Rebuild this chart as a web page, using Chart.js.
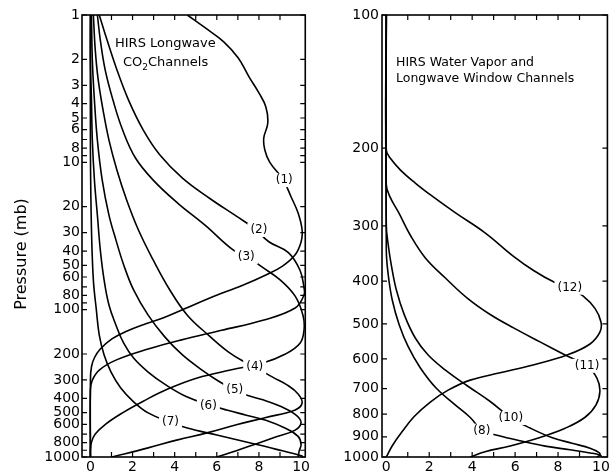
<!DOCTYPE html>
<html>
<head>
<meta charset="utf-8">
<script src="https://cdn.jsdelivr.net/npm/chart.js@4.4.0/dist/chart.umd.min.js"></script>
<style>
  body { margin: 0; background: #fff; width: 612px; height: 471px; overflow: hidden; position: relative; }
  #leftChart { position: absolute; left: 0; top: 0; }
  #rightChart { position: absolute; left: 312px; top: 0; }
</style>
</head>
<body>
<canvas id="leftChart" width="312" height="471"></canvas>
<canvas id="rightChart" width="300" height="471"></canvas>
<script>
// --- left panel: HIRS longwave CO2 channels (x = weighting, p = pressure mb)
const ch1X = [4.6, 5.44, 6.33, 7.02, 7.53, 8.0, 8.33, 8.42, 8.23, 8.28, 8.51, 9.16, 9.53, 9.86, 10.05, 10.0, 9.72, 9.12, 8.33, 7.26, 5.67, 4.47, 3.44, 2.6, 1.72, 1.02, 0.47, 0.19, 0.05, 0, 0];
const ch1P = [1, 1.22, 1.52, 1.96, 2.63, 3.38, 4.21, 5.41, 6.84, 8.25, 9.96, 13.2, 17.2, 22.1, 28.8, 34.7, 42.4, 50.6, 58.2, 68, 83.2, 98.7, 114, 125, 140, 158, 185, 212, 244, 300, 1000];
const ch2X = [0.42, 0.79, 1.26, 1.81, 2.51, 3.3, 4.37, 5.67, 6.93, 7.77, 8.47, 9.4, 9.95, 10.14, 10.14, 9.72, 8.19, 6.23, 4.28, 2.74, 1.21, 0.42, 0.09, 0, 0];
const ch2P = [1, 1.48, 2.36, 3.78, 6.04, 8.92, 12.8, 17.6, 23.2, 28, 34.6, 41, 54, 71, 79.6, 97.5, 118, 138, 161, 185, 220, 257, 301, 351, 1000];
const ch3X = [0.33, 0.47, 0.7, 1.07, 1.53, 2.14, 2.98, 4.14, 5.44, 6.79, 7.49, 8.09, 9.02, 9.72, 10.09, 10.14, 9.95, 9.26, 8.19, 6.7, 5.07, 3.67, 2.51, 1.58, 0.74, 0.23, 0.05, 0, 0];
const ch3P = [1, 1.48, 2.36, 3.78, 6.04, 9.35, 13.2, 18.9, 26.7, 39.5, 44, 50.7, 63, 81, 109, 138, 169, 200, 230, 256, 291, 346, 418, 496, 596, 699, 794, 895, 1000];
const ch4X = [0.14, 0.23, 0.37, 0.6, 0.88, 1.26, 1.72, 2.28, 2.98, 3.77, 4.6, 5.63, 6.56, 7.4, 7.81, 8.65, 9.35, 9.86, 10.05, 9.72, 8.33, 6.93, 5.53, 4.14, 2.74, 1.02];
const ch4P = [1, 1.73, 2.76, 4.42, 7.06, 11.3, 18, 28.8, 46, 73.5, 109, 150, 194, 230, 245, 287, 325, 373, 430, 479, 539, 604, 686, 765, 867, 1000];
const ch5X = [0.05, 0.09, 0.19, 0.33, 0.56, 0.88, 1.21, 1.58, 2.05, 2.74, 3.53, 4.37, 5.3, 6.09, 6.84, 7.4, 8.23, 9.02, 9.72, 10.0, 9.72, 8.79, 7.86, 6.93, 6.0];
const ch5P = [1, 2.02, 3.78, 7.06, 13.2, 22.8, 33.6, 49.7, 73.5, 109, 153, 203, 257, 306, 351, 380, 411, 453, 513, 580, 657, 732, 815, 907, 1000];
const ch6X = [0, 0, 0.05, 0.09, 0.19, 0.33, 0.47, 0.65, 0.88, 1.21, 1.58, 2.05, 2.74, 3.58, 4.6, 5.67, 6.47, 7.4, 8.33, 9.26, 9.86, 10.0, 9.91, 9.86];
const ch6P = [1, 2.02, 3.78, 7.06, 13.2, 22.8, 39.4, 63, 93, 127, 169, 213, 265, 324, 392, 444, 480, 520, 563, 638, 724, 821, 912, 1000];
const ch7X = [0, 0, 0.05, 0.14, 0.28, 0.42, 0.65, 0.98, 1.44, 2.05, 2.74, 3.77, 4.6, 6.0, 7.4, 8.79, 10.05, 10.05];
const ch7P = [1, 8.25, 28.8, 63, 100, 149, 203, 265, 340, 422, 502, 580, 636, 710, 792, 884, 985, 1000];

// --- right panel: water vapour and window channels
const ch8X = [0, 0, 0.09, 0.28, 0.6, 1.02, 1.58, 2.33, 3.21, 3.91, 4.47, 5.21, 6.23, 7.4, 8.56, 9.49, 9.95, 10.05];
const ch8P = [100, 340, 387, 442, 502, 563, 628, 699, 762, 814, 871, 894, 919, 945, 963, 979, 990, 1000];
const ch10X = [0, 0, 0.09, 0.23, 0.47, 0.84, 1.35, 1.95, 2.74, 3.77, 4.84, 5.81, 6.7, 7.67, 8.65, 9.49, 9.91, 9.95, 9.81];
const ch10P = [100, 299, 331, 367, 419, 477, 538, 588, 635, 690, 749, 815, 860, 902, 931, 955, 977, 990, 1000];
const ch11X = [0, 0, 0.19, 0.56, 1.12, 1.81, 2.74, 3.77, 4.84, 5.95, 7.16, 8.33, 9.35, 9.81, 9.95, 9.77, 9.26, 8.33, 7.16, 5.77, 4.6, 3.91];
const ch11P = [100, 242, 259, 279, 315, 354, 393, 437, 476, 511, 549, 588, 623, 663, 710, 762, 813, 861, 903, 944, 973, 1000];
const ch12X = [0, 0, 0.19, 0.65, 1.35, 2.14, 3.21, 4.6, 5.91, 6.88, 7.81, 8.56, 9.16, 9.72, 10.0, 9.95, 9.49, 8.42, 6.84, 5.3, 3.91, 2.88, 2.05, 1.3, 0.74, 0.28, 0];
const ch12P = [100, 202, 211, 224, 240, 257, 280, 311, 351, 379, 402, 415, 432, 461, 495, 522, 555, 588, 619, 645, 670, 706, 751, 810, 876, 943, 1000];

// curve labels
const leftLabels = ['(1)', '(2)', '(3)', '(4)', '(5)', '(6)', '(7)'];
const leftLabelX = [9.2, 8.0, 7.4, 7.8, 6.85, 5.6, 3.8];
const leftLabelP = [13.2, 28.8, 44, 245, 351, 451, 580];
const rightLabels = ['(12)', '(11)', '(10)', '(8)'];
const rightLabelX = [8.55, 9.35, 5.8, 4.45];
const rightLabelP = [414, 622, 816, 872];

// ticks
const xTickValues = [0, 1, 2, 3, 4, 5, 6, 7, 8, 9, 10];
const leftYTicks = [1, 2, 3, 4, 5, 6, 8, 10, 20, 30, 40, 50, 60, 80, 100, 200, 300, 400, 500, 600, 800, 1000];
const leftYMinor = [1, 2, 3, 4, 5, 6, 7, 8, 9, 10, 20, 30, 40, 50, 60, 70, 80, 90, 100, 200, 300, 400, 500, 600, 700, 800, 900, 1000];
const rightYTicks = [100, 200, 300, 400, 500, 600, 700, 800, 900, 1000];

const FONT = '"DejaVu Sans", sans-serif';

function toPoints(xs, ps) {
    return xs.map((x, i) => ({x: x, y: ps[i]}));
}

function curve(xs, ps) {
    return {
        data: toPoints(xs, ps),
        showLine: true,
        borderColor: '#000',
        borderWidth: 1.6,
        pointRadius: 0,
        tension: 0.4,
        fill: false
    };
}

// draws frame, inward ticks, curve labels and panel texts
const decor = {
    id: 'decor',
    afterDatasetsDraw(chart, args, opts) {
        const ctx = chart.ctx;
        const a = chart.chartArea;
        const xs = chart.scales.x, ys = chart.scales.y;
        ctx.save();

        ctx.font = '12px ' + FONT;
        ctx.textAlign = 'center';
        ctx.textBaseline = 'middle';
        opts.labels.forEach((t, i) => {
            const px = xs.getPixelForValue(opts.labelX[i]);
            const py = ys.getPixelForValue(opts.labelP[i]);
            const w = ctx.measureText(t).width;
            ctx.fillStyle = '#fff';
            ctx.fillRect(px - w / 2 - 3, py - 7, w + 6, 14);
            ctx.fillStyle = '#000';
            ctx.fillText(t, px, py);
        });

        ctx.strokeStyle = '#000';
        ctx.lineWidth = 1.6;
        ctx.strokeRect(a.left, a.top, a.right - a.left, a.bottom - a.top);

        ctx.lineWidth = 1.2;
        ctx.beginPath();
        opts.xTicks.forEach(v => {
            const p = xs.getPixelForValue(v);
            ctx.moveTo(p, a.bottom); ctx.lineTo(p, a.bottom - 5);
            ctx.moveTo(p, a.top); ctx.lineTo(p, a.top + 5);
        });
        opts.yTicks.forEach(v => {
            const p = ys.getPixelForValue(v);
            ctx.moveTo(a.left, p); ctx.lineTo(a.left + 5, p);
            ctx.moveTo(a.right, p); ctx.lineTo(a.right - 5, p);
        });
        ctx.stroke();

        ctx.fillStyle = '#000';
        ctx.textAlign = 'left';
        ctx.textBaseline = 'alphabetic';
        opts.texts.forEach(t => {
            ctx.font = (t.size || 13) + 'px ' + FONT;
            ctx.fillText(t.text, a.left + t.dx, a.top + t.dy);
            if (t.sub) {
                let w = ctx.measureText(t.text).width;
                ctx.font = '9px ' + FONT;
                ctx.fillText(t.sub, a.left + t.dx + w, a.top + t.dy + 4);
                w += ctx.measureText(t.sub).width;
                ctx.font = (t.size || 13) + 'px ' + FONT;
                ctx.fillText(t.after, a.left + t.dx + w, a.top + t.dy);
            }
        });

        if (opts.yTitle) {
            ctx.font = '16px ' + FONT;
            ctx.textAlign = 'center';
            ctx.textBaseline = 'middle';
            ctx.translate(22, 254);
            ctx.rotate(-Math.PI / 2);
            ctx.fillText(opts.yTitle, 0, 0);
        }
        ctx.restore();
    }
};

function makeChart(id, datasets, cfg) {
    return new Chart(document.getElementById(id), {
        type: 'scatter',
        data: {datasets: datasets},
        plugins: [decor],
        options: {
            responsive: false,
            animation: false,
            layout: {padding: {top: 15, right: cfg.padRight, left: 0, bottom: 0}},
            plugins: {
                legend: {display: false},
                tooltip: {enabled: false},
                decor: {
                    labels: cfg.labels, labelX: cfg.labelX, labelP: cfg.labelP,
                    xTicks: [1, 2, 3, 4, 5, 6, 7, 8, 9],
                    yTicks: cfg.yMinor,
                    texts: cfg.texts,
                    yTitle: cfg.yTitle
                }
            },
            scales: {
                x: {
                    type: 'linear',
                    min: cfg.xMin, max: cfg.xMax,
                    grid: {display: false, drawTicks: false},
                    border: {display: false},
                    afterBuildTicks: s => { s.ticks = xTickValues.map(v => ({value: v})); },
                    afterFit: s => { s.height = 14; },
                    ticks: {
                        autoSkip: false, maxRotation: 0, padding: 2,
                        color: '#000', font: {family: FONT, size: 14},
                        callback: v => (v % 2 === 0 ? String(v) : '')
                    }
                },
                y: {
                    type: 'logarithmic',
                    reverse: true,
                    min: cfg.yMin, max: 1000,
                    grid: {display: false, drawTicks: false},
                    border: {display: false},
                    afterBuildTicks: s => { s.ticks = cfg.yTicks.map(v => ({value: v})); },
                    afterFit: s => { s.width = cfg.yWidth; },
                    ticks: {
                        autoSkip: false, padding: cfg.yPad,
                        color: '#000', font: {family: FONT, size: 14},
                        callback: v => String(v)
                    }
                }
            }
        }
    });
}

makeChart('leftChart', [
    curve(ch1X, ch1P), curve(ch2X, ch2P), curve(ch3X, ch3P), curve(ch4X, ch4P),
    curve(ch5X, ch5P), curve(ch6X, ch6P), curve(ch7X, ch7P)
], {
    xMin: -0.4, xMax: 10.2, yMin: 1, yWidth: 82, yPad: 2, padRight: 2,
    yTicks: leftYTicks, yMinor: leftYMinor,
    labels: leftLabels, labelX: leftLabelX, labelP: leftLabelP,
    texts: [
        {text: 'HIRS Longwave', dx: 33, dy: 32},
        {text: 'CO', sub: '2', after: 'Channels', dx: 41, dy: 51}
    ],
    yTitle: 'Pressure (mb)'
});

makeChart('rightChart', [
    curve(ch12X, ch12P), curve(ch11X, ch11P), curve(ch10X, ch10P), curve(ch8X, ch8P)
], {
    xMin: -0.2, xMax: 10.3, yMin: 100, yWidth: 70, yPad: 3, padRight: 4,
    yTicks: rightYTicks, yMinor: rightYTicks,
    labels: rightLabels, labelX: rightLabelX, labelP: rightLabelP,
    texts: [
        {text: 'HIRS Water Vapor and', dx: 14, dy: 51, size: 12.5},
        {text: 'Longwave Window Channels', dx: 14, dy: 67, size: 12.5}
    ],
    yTitle: null
});
</script>
</body>
</html>
